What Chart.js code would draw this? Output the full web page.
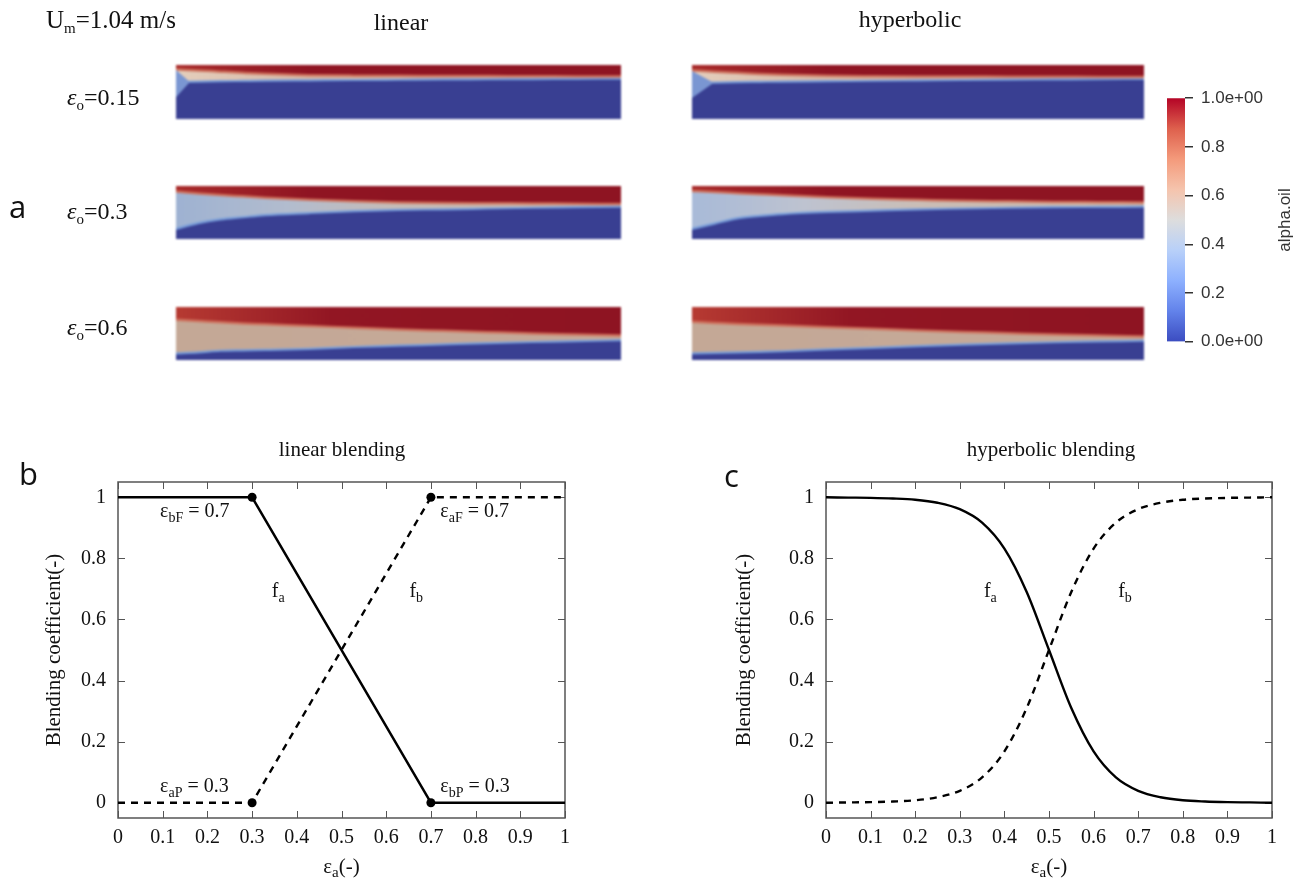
<!DOCTYPE html>
<html>
<head>
<meta charset="utf-8">
<script src="https://cdn.jsdelivr.net/npm/chart.js@4.4.1/dist/chart.umd.min.js"></script>
<style>
  html, body { margin: 0; padding: 0; background: #fff; }
  #fig { position: relative; width: 1302px; height: 886px; overflow: hidden; background: #fff; }
  #fig canvas { position: absolute; }
  .field { filter: blur(1.1px); }
  #labels { position: absolute; left: 0; top: 0; pointer-events: none; }
</style>
</head>
<body>
<div id="fig">
  <canvas id="linA" class="field" width="445" height="54" style="left:176px;top:65px"></canvas>
  <canvas id="hypA" class="field" width="452" height="54" style="left:692px;top:65px"></canvas>
  <canvas id="linB" class="field" width="445" height="53" style="left:176px;top:186px"></canvas>
  <canvas id="hypB" class="field" width="452" height="53" style="left:692px;top:186px"></canvas>
  <canvas id="linC" class="field" width="445" height="53" style="left:176px;top:307px"></canvas>
  <canvas id="hypC" class="field" width="452" height="53" style="left:692px;top:307px"></canvas>
  <canvas id="colorbar" width="152" height="280" style="left:1150px;top:80px"></canvas>
  <canvas id="chartLinear" width="650" height="456" style="left:0px;top:430px"></canvas>
  <canvas id="chartHyper" width="652" height="456" style="left:650px;top:430px"></canvas>

  <svg id="labels" width="1302" height="886" xmlns="http://www.w3.org/2000/svg">
    <g font-family="'Liberation Serif', 'Times New Roman', serif" font-size="24" fill="#111">
      <text x="46" y="28" font-size="25">U<tspan font-size="15" dy="5">m</tspan><tspan dy="-5">=1.04 m/s</tspan></text>
      <text x="401" y="30" text-anchor="middle">linear</text>
      <text x="910" y="27" text-anchor="middle">hyperbolic</text>
      <text x="67" y="105"><tspan font-style="italic">ε</tspan><tspan font-size="15" dy="5">o</tspan><tspan dy="-5">=0.15</tspan></text>
      <text x="67" y="219"><tspan font-style="italic">ε</tspan><tspan font-size="15" dy="5">o</tspan><tspan dy="-5">=0.3</tspan></text>
      <text x="67" y="335"><tspan font-style="italic">ε</tspan><tspan font-size="15" dy="5">o</tspan><tspan dy="-5">=0.6</tspan></text>
    </g>
    <g font-family="'Liberation Serif', 'Times New Roman', serif" font-size="21" fill="#111" text-anchor="middle">
      <text x="342" y="456">linear blending</text>
      <text x="1051" y="456">hyperbolic blending</text>
    </g>
    <g font-family="'Open Sans', 'DejaVu Sans', sans-serif" font-size="31" fill="#111">
      <text x="9" y="218">a</text>
      <text x="19" y="485">b</text>
      <text x="724" y="487">c</text>
    </g>
  </svg>
</div>

<script>
// ---- blending functions (panels b, c) ----
const blendX = [0, 0.3, 0.7, 1];
const linearFa = [1, 1, 0, 0];
const linearFb = [0, 0, 1, 1];

const hypX  = [0, 0.05, 0.1, 0.15, 0.2, 0.25, 0.3, 0.35, 0.4, 0.45, 0.5, 0.55, 0.6, 0.65, 0.7, 0.75, 0.8, 0.85, 0.9, 0.95, 1];
const hypFa = [1.000, 0.999, 0.998, 0.996, 0.992, 0.982, 0.961, 0.917, 0.832, 0.690, 0.500, 0.310, 0.168, 0.083, 0.039, 0.018, 0.008, 0.004, 0.002, 0.001, 0.000];
const hypFb = [0.000, 0.001, 0.002, 0.004, 0.008, 0.018, 0.039, 0.083, 0.168, 0.310, 0.500, 0.690, 0.832, 0.917, 0.961, 0.982, 0.992, 0.996, 0.998, 0.999, 1.000];

const xTickValues = [0, 0.1, 0.2, 0.3, 0.4, 0.5, 0.6, 0.7, 0.8, 0.9, 1];
const xTickLabels = ['0', '0.1', '0.2', '0.3', '0.4', '0.5', '0.6', '0.7', '0.8', '0.9', '1'];
const yTickValues = [0, 0.2, 0.4, 0.6, 0.8, 1];
const yTickLabels = ['0', '0.2', '0.4', '0.6', '0.8', '1'];

// ---- alpha.oil fields (panel a): interface heights along the channel ----
const fieldX = [0, 0.05, 0.1, 0.15, 0.2, 0.3, 0.4, 0.5, 0.6, 0.7, 0.8, 0.9, 1];

const linOil015   = [0.920, 0.900, 0.877, 0.855, 0.836, 0.812, 0.803, 0.800, 0.797, 0.794, 0.791, 0.788, 0.785];
const linWater015 = [0.687, 0.692, 0.700, 0.705, 0.710, 0.716, 0.722, 0.727, 0.732, 0.736, 0.740, 0.744, 0.748];
const hypOil015   = [0.900, 0.875, 0.855, 0.835, 0.820, 0.800, 0.792, 0.788, 0.786, 0.784, 0.782, 0.780, 0.778];
const hypWater015 = [0.670, 0.675, 0.683, 0.688, 0.693, 0.700, 0.708, 0.715, 0.722, 0.728, 0.733, 0.738, 0.742];

const linOil03   = [0.894, 0.860, 0.830, 0.805, 0.780, 0.740, 0.710, 0.690, 0.680, 0.675, 0.670, 0.665, 0.660];
const linWater03 = [0.190, 0.300, 0.370, 0.410, 0.450, 0.490, 0.525, 0.550, 0.560, 0.575, 0.590, 0.600, 0.610];
const hypOil03   = [0.906, 0.885, 0.865, 0.845, 0.825, 0.790, 0.760, 0.740, 0.720, 0.710, 0.700, 0.695, 0.690];
const hypWater03 = [0.190, 0.290, 0.390, 0.435, 0.470, 0.510, 0.535, 0.560, 0.575, 0.590, 0.600, 0.605, 0.610];

const linOil06   = [0.760, 0.735, 0.710, 0.690, 0.675, 0.640, 0.610, 0.575, 0.550, 0.525, 0.500, 0.480, 0.460];
const linWater06 = [0.125, 0.145, 0.175, 0.183, 0.190, 0.210, 0.245, 0.270, 0.295, 0.320, 0.340, 0.355, 0.375];
const hypOil06   = [0.720, 0.700, 0.680, 0.665, 0.650, 0.620, 0.590, 0.555, 0.530, 0.505, 0.480, 0.460, 0.445];
const hypWater06 = [0.125, 0.135, 0.145, 0.155, 0.165, 0.200, 0.230, 0.260, 0.290, 0.315, 0.335, 0.350, 0.365];

// inlet wedge of the mixed jet, eps_o = 0.15
const linWedgeX = [0, 0.031];
const linWedgeTop = [0.908, 0.687];
const linWedgeBottom = [0.405, 0.687];
const hypWedgeX = [0, 0.048];
const hypWedgeTop = [0.890, 0.670];
const hypWedgeBottom = [0.390, 0.670];

// colour bar
const colorbarTicks = [0, 0.2, 0.4, 0.6, 0.8, 1];
const colorbarTickLabels = ['0.0e+00', '0.2', '0.4', '0.6', '0.8', '1.0e+00'];

// ---------------------------------------------------------------------
const SERIF = '"Liberation Serif", "Times New Roman", serif';
const coolWarm = [
  [0.0, 'rgb(59,76,192)'], [0.125, 'rgb(98,130,234)'], [0.25, 'rgb(141,176,254)'],
  [0.375, 'rgb(184,208,249)'], [0.5, 'rgb(221,221,221)'], [0.625, 'rgb(245,196,173)'],
  [0.75, 'rgb(244,154,123)'], [0.875, 'rgb(222,96,77)'], [1.0, 'rgb(180,4,38)']
];

const baseOpts = {
  responsive: false, animation: false, devicePixelRatio: 1, events: []
};

// ---- field panels ----
const mixPlugin = {
  id: 'mixBackground',
  beforeDraw(chart, args, opts) {
    const a = chart.chartArea, ctx = chart.ctx;
    const g = ctx.createLinearGradient(a.left, 0, a.right, 0);
    opts.stops.forEach(([p, c]) => g.addColorStop(p, c));
    ctx.save();
    ctx.fillStyle = g;
    ctx.fillRect(a.left, a.top, a.width, a.height);
    ctx.restore();
  }
};

function hGrad(chart, stops) {
  const a = chart.chartArea;
  if (!a) return stops[stops.length - 1][1];
  const g = chart.ctx.createLinearGradient(a.left, 0, a.right, 0);
  stops.forEach(([p, c]) => g.addColorStop(p, c));
  return g;
}

function makeField(id, oilEdge, waterEdge, mixStops, oilStops, wedge) {
  const pts = arr => fieldX.map((x, i) => ({ x, y: arr[i] }));
  const datasets = [];
  if (wedge) {
    datasets.push({
      data: wedge.x.map((x, i) => ({ x, y: wedge.top[i] })),
      fill: '+1', backgroundColor: 'rgb(122,150,210)', borderWidth: 0, pointRadius: 0
    });
    datasets.push({
      data: wedge.x.map((x, i) => ({ x, y: wedge.bottom[i] })),
      fill: false, borderWidth: 0, pointRadius: 0
    });
  }
  datasets.push({
    data: pts(oilEdge), fill: 'end',
    backgroundColor: c => hGrad(c.chart, oilStops),
    borderColor: 'rgb(205,112,92)', borderWidth: 2.5, pointRadius: 0,
    cubicInterpolationMode: 'monotone'
  });
  datasets.push({
    data: pts(waterEdge), fill: 'start',
    backgroundColor: 'rgb(57,63,146)',
    borderColor: 'rgb(118,155,216)', borderWidth: 2.2, pointRadius: 0,
    cubicInterpolationMode: 'monotone'
  });
  new Chart(document.getElementById(id), {
    type: 'line',
    data: { datasets },
    options: Object.assign({}, baseOpts, {
      layout: { padding: 0 },
      plugins: { legend: { display: false }, tooltip: { enabled: false }, mixBackground: { stops: mixStops } },
      scales: {
        x: { type: 'linear', min: 0, max: 1, display: false },
        y: { type: 'linear', min: 0, max: 1, display: false }
      }
    }),
    plugins: [mixPlugin]
  });
}

const redLeft = [[0, 'rgb(168,42,42)'], [0.3, 'rgb(143,20,34)'], [1, 'rgb(142,20,34)']];
const redLeftStrong = [[0, 'rgb(182,58,50)'], [0.35, 'rgb(146,22,35)'], [1, 'rgb(142,20,34)']];
const mixThin = [[0, 'rgb(228,206,188)'], [0.3, 'rgb(214,184,166)'], [1, 'rgb(200,170,160)']];
const mixLinB = [[0, 'rgb(158,178,210)'], [0.25, 'rgb(178,188,206)'], [0.5, 'rgb(198,188,182)'], [1, 'rgb(205,181,166)']];
const mixHypB = [[0, 'rgb(168,186,216)'], [0.25, 'rgb(190,195,208)'], [0.5, 'rgb(202,190,182)'], [1, 'rgb(205,181,166)']];
const mixBeige = [[0, 'rgb(196,168,150)'], [1, 'rgb(198,170,153)']];

makeField('linA', linOil015, linWater015, mixThin, redLeft, { x: linWedgeX, top: linWedgeTop, bottom: linWedgeBottom });
makeField('hypA', hypOil015, hypWater015, mixThin, redLeft, { x: hypWedgeX, top: hypWedgeTop, bottom: hypWedgeBottom });
makeField('linB', linOil03, linWater03, mixLinB, redLeft);
makeField('hypB', hypOil03, hypWater03, mixHypB, redLeft);
makeField('linC', linOil06, linWater06, mixBeige, redLeftStrong);
makeField('hypC', hypOil06, hypWater06, mixBeige, redLeftStrong);

// ---- colour bar ----
const cbTitlePlugin = {
  id: 'cbTitle',
  afterDraw(chart) {
    const { ctx, chartArea: a } = chart;
    ctx.save();
    ctx.fillStyle = '#333';
    ctx.font = '17px "Liberation Sans", Arial, sans-serif';
    ctx.textAlign = 'center';
    ctx.textBaseline = 'middle';
    ctx.translate(a.right + 100, (a.top + a.bottom) / 2);
    ctx.rotate(-Math.PI / 2);
    ctx.fillText('alpha.oil', 0, 0);
    ctx.restore();
  }
};

new Chart(document.getElementById('colorbar'), {
  type: 'bar',
  data: {
    labels: ['alpha.oil'],
    datasets: [{
      data: [[0, 1]],
      barPercentage: 1, categoryPercentage: 1, borderWidth: 0, borderSkipped: false,
      backgroundColor: c => {
        const ch = c.chart;
        if (!ch.chartArea) return coolWarm[4][1];
        const y = ch.scales.y;
        const g = ch.ctx.createLinearGradient(0, y.getPixelForValue(0), 0, y.getPixelForValue(1));
        coolWarm.forEach(([p, col]) => g.addColorStop(p, col));
        return g;
      }
    }]
  },
  options: Object.assign({}, baseOpts, {
    layout: { padding: { left: 17, top: 13, bottom: 13, right: 0 } },
    plugins: { legend: { display: false }, tooltip: { enabled: false } },
    scales: {
      x: { display: false },
      y: {
        position: 'right', min: 0, max: 1,
        afterBuildTicks: s => { s.ticks = colorbarTicks.map(v => ({ value: v })); },
        afterFit: s => { s.width = 117; },
        ticks: {
          callback: (v, i) => colorbarTickLabels[i],
          font: { family: '"Liberation Sans", Arial, sans-serif', size: 17 },
          color: '#333', padding: 8
        },
        grid: { drawOnChartArea: false, drawTicks: true, tickLength: 8, color: '#333', lineWidth: 1.5 },
        border: { display: false }
      }
    }
  }),
  plugins: [cbTitlePlugin]
});

// ---- blending charts ----
function drawRich(ctx, parts, x, y, size, align) {
  const fontFor = sub => (sub ? Math.round(size * 0.7) : size) + 'px ' + SERIF;
  let total = 0;
  parts.forEach(([t, sub]) => { ctx.font = fontFor(sub); total += ctx.measureText(t).width; });
  let cx = align === 'center' ? x - total / 2 : (align === 'right' ? x - total : x);
  ctx.textAlign = 'left';
  ctx.textBaseline = 'middle';
  parts.forEach(([t, sub]) => {
    ctx.font = fontFor(sub);
    ctx.fillText(t, cx, sub ? y + size * 0.3 : y);
    cx += ctx.measureText(t).width;
  });
}

const framePlugin = {
  id: 'frame',
  beforeDatasetsDraw(chart) {
    const { ctx, chartArea: a, scales: { x, y } } = chart;
    ctx.save();
    ctx.strokeStyle = '#555';
    ctx.lineWidth = 1;
    ctx.beginPath();
    x.ticks.forEach(t => {
      const px = Math.round(x.getPixelForValue(t.value)) + 0.5;
      ctx.moveTo(px, a.bottom); ctx.lineTo(px, a.bottom - 7);
      ctx.moveTo(px, a.top); ctx.lineTo(px, a.top + 7);
    });
    y.ticks.forEach(t => {
      const py = Math.round(y.getPixelForValue(t.value)) + 0.5;
      ctx.moveTo(a.left, py); ctx.lineTo(a.left + 7, py);
      ctx.moveTo(a.right, py); ctx.lineTo(a.right - 7, py);
    });
    ctx.stroke();
    ctx.lineWidth = 1.5;
    ctx.strokeRect(a.left, a.top, a.width, a.height);
    ctx.restore();
  }
};

const notesPlugin = {
  id: 'notes',
  afterDatasetsDraw(chart, args, opts) {
    const { ctx, chartArea: a, scales: { x, y } } = chart;
    ctx.save();
    ctx.fillStyle = '#111';
    opts.items.forEach(it => drawRich(ctx, it.parts, x.getPixelForValue(it.x), y.getPixelForValue(it.y), 20, 'left'));
    drawRich(ctx, [['ε', 0], ['a', 1], ['(-)', 0]], (a.left + a.right) / 2, a.bottom + 49, 21, 'center');
    ctx.translate(a.left - opts.yTitleGap, (a.top + a.bottom) / 2);
    ctx.rotate(-Math.PI / 2);
    drawRich(ctx, [['Blending coefficient(-)', 0]], 0, 0, 21, 'center');
    ctx.restore();
  }
};

function makeBlend(id, cfg) {
  const lineStyle = {
    borderColor: '#000', borderWidth: 2.4, fill: false,
    pointBackgroundColor: '#000', pointBorderWidth: 0, pointRadius: cfg.markers,
    cubicInterpolationMode: cfg.smooth ? 'monotone' : 'default', tension: 0
  };
  new Chart(document.getElementById(id), {
    type: 'line',
    data: {
      datasets: [
        Object.assign({ label: 'f_a', data: cfg.x.map((x, i) => ({ x, y: cfg.fa[i] })) }, lineStyle),
        Object.assign({ label: 'f_b', data: cfg.x.map((x, i) => ({ x, y: cfg.fb[i] })), borderDash: [7, 6] }, lineStyle)
      ]
    },
    options: Object.assign({}, baseOpts, {
      layout: { padding: { top: 52, right: cfg.padRight, left: 0, bottom: 0 } },
      plugins: {
        legend: { display: false }, tooltip: { enabled: false },
        notes: { items: cfg.notes, yTitleGap: cfg.yTitleGap }
      },
      scales: {
        x: {
          type: 'linear', min: 0, max: 1,
          afterBuildTicks: s => { s.ticks = xTickValues.map(v => ({ value: v })); },
          afterFit: s => { s.height = 68; },
          ticks: { callback: (v, i) => xTickLabels[i], font: { family: SERIF, size: 20 }, color: '#111', padding: 8, maxRotation: 0, autoSkip: false },
          grid: { display: false, drawTicks: false },
          border: { display: false }
        },
        y: {
          type: 'linear', min: -0.05, max: 1.05,
          afterBuildTicks: s => { s.ticks = yTickValues.map(v => ({ value: v })); },
          afterFit: s => { s.width = cfg.yAxisWidth; },
          ticks: { callback: (v, i) => yTickLabels[i], font: { family: SERIF, size: 20 }, color: '#111', padding: 12 },
          grid: { display: false, drawTicks: false },
          border: { display: false }
        }
      }
    }),
    plugins: [framePlugin, notesPlugin]
  });
}

makeBlend('chartLinear', {
  x: blendX, fa: linearFa, fb: linearFb, smooth: false,
  markers: c => (c.dataIndex === 1 || c.dataIndex === 2) ? 4.5 : 0,
  padRight: 85, yAxisWidth: 118, yTitleGap: 64,
  notes: [
    { parts: [['ε', 0], ['bF', 1], [' = 0.7', 0]], x: 0.094, y: 0.951 },
    { parts: [['ε', 0], ['aF', 1], [' = 0.7', 0]], x: 0.721, y: 0.951 },
    { parts: [['ε', 0], ['aP', 1], [' = 0.3', 0]], x: 0.094, y: 0.051 },
    { parts: [['ε', 0], ['bP', 1], [' = 0.3', 0]], x: 0.721, y: 0.051 },
    { parts: [['f', 0], ['a', 1]], x: 0.344, y: 0.69 },
    { parts: [['f', 0], ['b', 1]], x: 0.652, y: 0.69 }
  ]
});

makeBlend('chartHyper', {
  x: hypX, fa: hypFa, fb: hypFb, smooth: true,
  markers: 0,
  padRight: 30, yAxisWidth: 176, yTitleGap: 82,
  notes: [
    { parts: [['f', 0], ['a', 1]], x: 0.354, y: 0.69 },
    { parts: [['f', 0], ['b', 1]], x: 0.655, y: 0.69 }
  ]
});
</script>
</body>
</html>
